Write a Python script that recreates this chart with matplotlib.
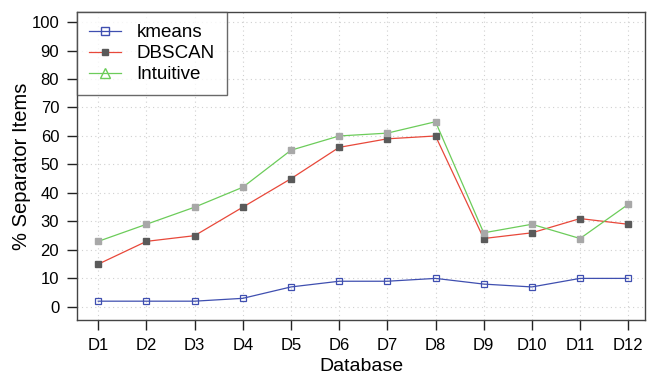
import matplotlib
matplotlib.use("Agg")
from matplotlib import pyplot as plt
from matplotlib.lines import Line2D

plt.rcParams['font.family'] = ['Liberation Sans', 'DejaVu Sans']

databases = ["D1", "D2", "D3", "D4", "D5", "D6", "D7", "D8", "D9", "D10", "D11", "D12"]
kmeans = [2, 2, 2, 3, 7, 9, 9, 10, 8, 7, 10, 10]
dbscan = [15, 23, 25, 35, 45, 56, 59, 60, 24, 26, 31, 29]
intuitive = [23, 29, 35, 42, 55, 60, 61, 65, 26, 29, 24, 36]

blue = "#3f4fb0"
red = "#e8483a"
green = "#6ccc5a"

fig = plt.figure(figsize=(6.49, 3.77), dpi=100)
ax = fig.add_axes([0.119, 0.152, 0.875, 0.816])

x = list(range(1, len(databases) + 1))

# grid first so it sits behind the lines
for v in range(0, 101, 10):
    ax.axhline(v, color="#d0d0d0", lw=0.8, ls=(0, (1, 3)), zorder=0)
for xi in x:
    ax.axvline(xi, color="#d0d0d0", lw=0.8, ls=(0, (1, 3)), zorder=0)

ax.plot(x, kmeans, color=blue, lw=0.9, marker="s", ms=5, mfc="none", mec=blue, mew=0.9)
ax.plot(x, dbscan, color=red, lw=0.9, marker="s", ms=5, mfc="#5a5a5a", mec="#5a5a5a")
ax.plot(x, intuitive, color=green, lw=0.9, marker="s", ms=5, mfc="#a8a8a8", mec="#a8a8a8")

ax.set_xlim(0.564, 12.35)
ax.set_ylim(-4.5, 103.5)
ax.set_xticks(x)
ax.set_xticklabels(databases)
ax.set_yticks(range(0, 101, 10))
ax.tick_params(axis="both", labelsize=12, length=7, width=1, color="#222222", direction="out", pad=6)

for s in ax.spines.values():
    s.set_color("#444444")
    s.set_linewidth(1.0)

ax.set_xlabel("Database", fontsize=14)
ax.xaxis.set_label_coords(0.5, -0.125, transform=ax.transAxes)
ax.xaxis.label.set_va("top")
ax.set_ylabel("% Separator Items", fontsize=14.5, labelpad=0)

handles = [
    Line2D([], [], color=blue, lw=0.9, marker="s", ms=6, mfc="none", mec=blue),
    Line2D([], [], color=red, lw=0.9, marker="s", ms=4, mfc="#5a5a5a", mec="#5a5a5a"),
    Line2D([], [], color=green, lw=0.9, marker="^", ms=7, mfc="none", mec=green),
]
leg = ax.legend(handles, ["kmeans", "DBSCAN", "Intuitive"], loc="upper left",
                bbox_to_anchor=(0, 1), borderaxespad=0, fontsize=13.5, frameon=True,
                fancybox=False, edgecolor="#444444", handlelength=1.7, handletextpad=0.8,
                labelspacing=0.2, borderpad=0.65)
leg.get_frame().set_linewidth(1.0)

fig.savefig("out.png", dpi=100)
